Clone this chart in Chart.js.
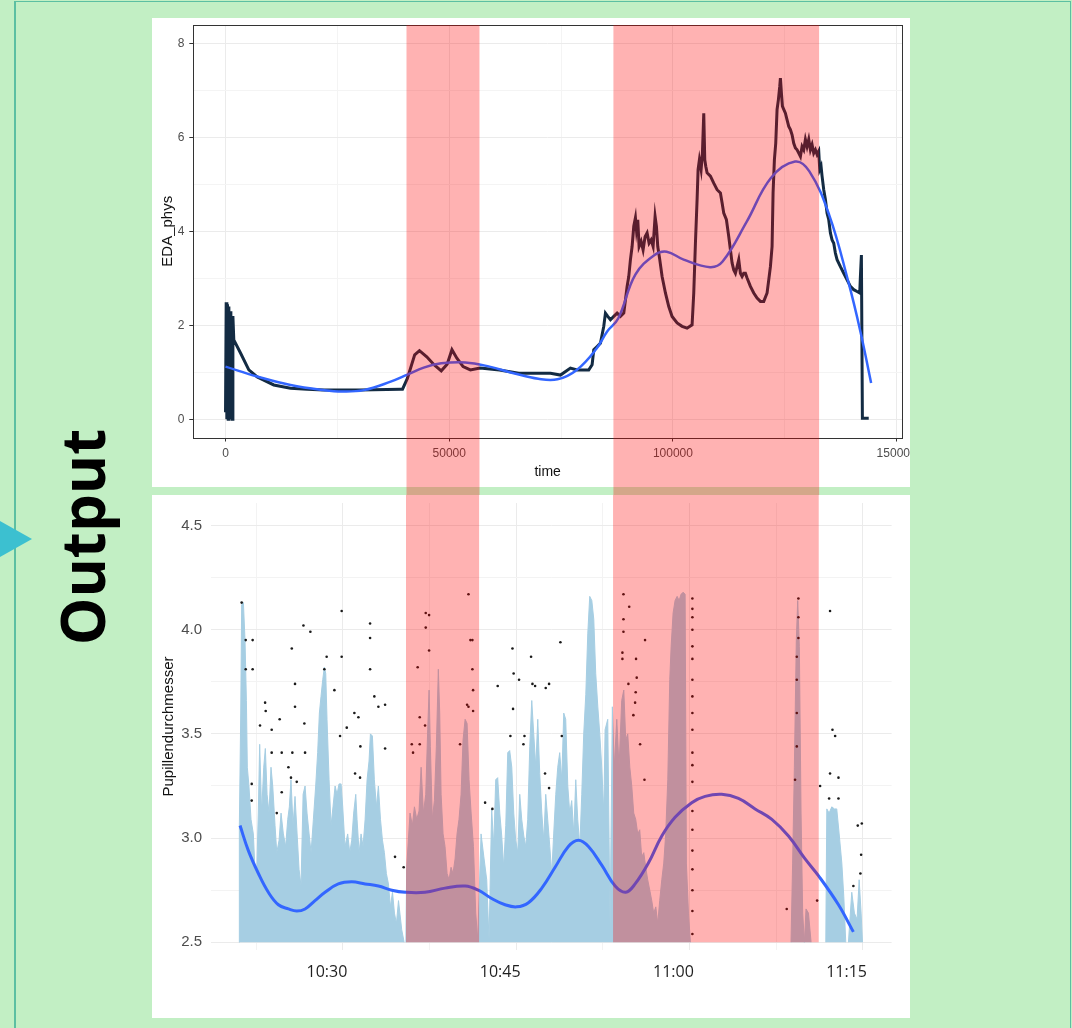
<!DOCTYPE html>
<html>
<head>
<meta charset="utf-8">
<script src="https://cdn.jsdelivr.net/npm/chart.js@4.4.1/dist/chart.umd.min.js"></script>
<style>
  html, body { margin: 0; padding: 0; }
  body { width: 1072px; height: 1028px; background: #c2efc4; position: relative; overflow: hidden; }
  #frame { position: absolute; left: 14px; top: 1px; width: 1054px; height: 1040px;
           border-left: 2px solid #5cbfa2; border-top: 1px solid #5cbfa2; border-right: 1px solid #5cbfa2; }
  #arrow { position: absolute; left: 0; top: 521px; width: 32px; height: 36px; background: #3cc0d0;
           clip-path: polygon(0 0, 100% 50%, 0 100%); }
  #outputLabel { position: absolute; left: 82px; top: 537px; transform: translate(-50%, -50%) rotate(-90deg);
                 font: bold 60px 'Open Sans', sans-serif; line-height: 1; white-space: nowrap; color: #000; }
  #edaChart { position: absolute; left: 152px; top: 18px; }
  #pupilChart { position: absolute; left: 152px; top: 495px; }
</style>
</head>
<body>
<div id="frame"></div>
<div id="arrow"></div>
<div id="outputLabel">Output</div>
<canvas id="edaChart" width="758" height="477"></canvas>
<canvas id="pupilChart" width="758" height="523"></canvas>
<script>
const edaTrace = [
  [0, 0.15], [150, 2.49], [300, 0.0], [450, 2.45], [600, 0.0], [750, 2.40], [900, 0.0],
  [1050, 2.30], [1200, 0.0], [1350, 2.20], [1500, 0.0], [1650, 2.20], [1855, 1.69],
  [3352, 1.41], [5207, 1.05], [7084, 0.90], [10793, 0.73], [14525, 0.66], [18257, 0.64],
  [21966, 0.62], [30000, 0.62], [39106, 0.64], [39560, 0.64], [40650, 0.87], [42280, 1.37],
  [43350, 1.46], [44980, 1.33], [46600, 1.16], [48220, 1.03], [49540, 1.17], [50610, 1.48],
  [51710, 1.30], [53100, 1.12], [54730, 1.05], [56900, 1.09], [61230, 1.05], [65560, 0.98],
  [72625, 0.98], [74860, 0.94], [77094, 1.09], [78584, 1.05], [81190, 1.05], [81936, 1.16],
  [82308, 1.48], [83054, 1.55], [83799, 1.62], [84543, 1.98], [84916, 2.26], [85437, 2.19],
  [86033, 2.12], [86778, 2.19], [87523, 2.26], [88268, 2.19], [89013, 2.26], [89385, 2.54],
  [89758, 2.83], [90130, 3.04], [90503, 3.40], [90875, 3.68], [91248, 4.11], [91620, 4.29],
  [91843, 4.04], [92141, 4.25], [92439, 3.68], [92886, 3.79], [93333, 3.61], [93780, 3.89],
  [94227, 3.97], [94674, 3.75], [95121, 3.82], [95568, 3.68], [96015, 4.32], [96313, 4.11],
  [96611, 3.68], [97058, 3.40], [97579, 3.04], [98324, 2.69], [99069, 2.40], [99814, 2.19],
  [100931, 2.05], [102049, 1.98], [103166, 1.94], [104283, 2.01], [104656, 2.69], [105028, 3.75],
  [105401, 4.68], [105624, 5.32], [105922, 5.53], [106297, 5.32], [106594, 5.67], [106892, 6.52],
  [107115, 5.53], [107339, 5.39], [107635, 5.25], [108380, 5.18], [109125, 5.03], [109870, 4.89],
  [110615, 4.82], [110987, 4.61], [111360, 4.39], [111956, 4.25], [112477, 3.89], [112850, 3.61],
  [113222, 3.33], [113595, 3.18], [113967, 3.11], [114339, 3.25], [114712, 3.40], [115084, 3.11],
  [115457, 3.04], [115829, 3.11], [116202, 3.11], [116574, 3.01], [117319, 2.83], [118064, 2.69],
  [118809, 2.58], [119554, 2.51], [120299, 2.51], [121044, 2.69], [121416, 2.97], [121789, 3.25],
  [122161, 3.68], [122384, 4.82], [122682, 5.53], [122980, 5.88], [123278, 6.60], [123576, 6.81],
  [123874, 7.09], [124023, 7.27], [124247, 6.95], [124470, 6.67], [124768, 6.60], [125140, 6.52],
  [125513, 6.38], [125885, 6.24], [126258, 6.17], [126630, 6.06], [127003, 5.88], [127375, 5.78],
  [127748, 5.74], [128120, 5.67], [128493, 5.60], [128865, 5.81], [129237, 5.74], [129610, 5.96],
  [129982, 5.81], [130355, 5.96], [130727, 5.74], [131100, 5.85], [131472, 5.67], [131845, 5.74],
  [132217, 5.64], [132590, 5.71], [132813, 5.32], [133111, 5.39], [133334, 5.18], [133707, 4.89],
  [134079, 4.68], [134452, 4.39], [134824, 4.25], [135197, 3.97], [135569, 3.82], [135942, 3.75],
  [136314, 3.54], [136687, 3.40], [137432, 3.25], [138176, 3.11], [138921, 2.97], [139666, 2.83],
  [140411, 2.76], [141156, 2.72], [141752, 2.69], [141901, 3.04], [142124, 3.50], [142348, 0.02],
  [143763, 0.02]
];
const edaSmooth = [
  [0, 1.12], [7084, 0.91], [14525, 0.73], [21966, 0.62], [26000, 0.59], [30900, 0.62],
  [36900, 0.80], [40650, 0.95], [44300, 1.10], [48220, 1.19], [53600, 1.21], [59000, 1.12],
  [64400, 0.98], [69900, 0.86], [74200, 0.85], [78500, 1.05], [82900, 1.50], [85300, 1.87],
  [87800, 2.15], [91600, 3.08], [95900, 3.50], [98600, 3.57], [102400, 3.40], [108300, 3.24],
  [111100, 3.36], [116500, 4.21], [121900, 5.14], [127300, 5.49], [130500, 5.28], [134900, 4.36],
  [139200, 2.93], [141900, 1.87], [144300, 0.77]
];
const edaTimeTicks = [0, 25000, 50000, 75000, 100000, 125000, 150000];
const edaValueTicks = [0, 1, 2, 3, 4, 5, 6, 7, 8];
const bandStartTime = [40450, 86700];
const bandEndTime = [56760, 132670];

// --- Pupille (unten): Minuten nach 10:00 ---
const pupilTrace = [
  [21.00, 2.50], [21.03, 3.06], [21.15, 3.60], [21.23, 4.12], [21.38, 4.13], [21.52, 3.95],
  [21.64, 3.66], [21.72, 3.34], [21.86, 3.25], [22.04, 3.09], [22.24, 3.02], [22.38, 2.85],
  [22.53, 2.83], [22.67, 3.12], [22.79, 3.45], [22.96, 3.12], [23.14, 3.34], [23.28, 3.43],
  [23.43, 3.21], [23.60, 3.12], [23.77, 3.34], [23.92, 3.25], [24.12, 3.06], [24.27, 2.93],
  [24.47, 2.99], [24.64, 3.12], [24.84, 3.02], [25.04, 2.96], [25.22, 3.09], [25.36, 3.15],
  [25.50, 3.28], [25.68, 3.06], [25.85, 3.20], [26.03, 3.02], [26.20, 2.85], [26.37, 2.77],
  [26.55, 3.21], [26.72, 3.25], [26.89, 3.12], [27.07, 3.02], [27.24, 2.93], [27.44, 3.09],
  [27.64, 3.25], [27.81, 3.41], [27.96, 3.60], [28.10, 3.68], [28.25, 3.76], [28.39, 3.82],
  [28.51, 3.79], [28.62, 3.57], [28.80, 3.28], [28.97, 3.06], [29.14, 3.15], [29.32, 3.25],
  [29.49, 3.21], [29.66, 3.26], [29.84, 3.26], [29.98, 3.15], [30.18, 2.96], [30.41, 3.02],
  [30.59, 2.93], [30.76, 2.99], [30.93, 3.12], [31.11, 3.21], [31.22, 3.09], [31.40, 2.93],
  [31.57, 3.02], [31.74, 2.96], [31.92, 3.09], [32.09, 3.28], [32.26, 3.37], [32.38, 3.50],
  [32.55, 3.49], [32.72, 3.28], [32.90, 3.15], [33.07, 3.25], [33.25, 3.09], [33.42, 2.99],
  [33.59, 2.93], [33.76, 2.83], [33.94, 2.78], [34.11, 2.67], [34.29, 2.74], [34.46, 2.64],
  [34.63, 2.59], [34.81, 2.70], [35.09, 2.56], [35.30, 2.50], [35.45, 2.50], [35.52, 2.86],
  [35.81, 3.12], [36.01, 3.06], [36.19, 3.15], [36.39, 3.09], [36.59, 3.13], [36.77, 3.34],
  [36.97, 3.12], [37.17, 3.21], [37.34, 3.52], [37.46, 3.71], [37.57, 3.44], [37.74, 3.09],
  [37.92, 3.18], [38.09, 3.44], [38.26, 3.81], [38.38, 3.60], [38.50, 3.21], [38.67, 3.02],
  [38.84, 2.96], [39.02, 2.83], [39.19, 2.80], [39.36, 2.86], [39.53, 2.83], [39.71, 2.90],
  [39.88, 3.02], [40.05, 3.09], [40.23, 3.21], [40.40, 3.47], [40.58, 3.57], [40.75, 3.55],
  [40.92, 3.28], [41.10, 3.12], [41.30, 2.96], [41.50, 2.64], [41.67, 2.51], [41.96, 3.02],
  [42.20, 2.91], [42.45, 2.80], [42.65, 2.51], [42.88, 3.14], [43.06, 2.96], [43.23, 3.28],
  [43.40, 3.29], [43.58, 3.12], [43.75, 3.01], [43.92, 2.86], [44.10, 3.06], [44.27, 3.41],
  [44.44, 3.42], [44.62, 3.34], [44.79, 3.12], [44.96, 2.99], [45.14, 2.93], [45.31, 3.21],
  [45.48, 3.09], [45.66, 3.01], [45.83, 2.96], [46.00, 3.09], [46.18, 3.44], [46.35, 3.66],
  [46.52, 3.50], [46.70, 3.34], [46.87, 3.57], [47.04, 3.31], [47.22, 3.12], [47.39, 2.99],
  [47.56, 3.21], [47.73, 3.09], [47.91, 2.96], [48.08, 2.83], [48.25, 3.02], [48.43, 3.21],
  [48.60, 3.34], [48.77, 3.41], [48.95, 3.28], [49.12, 3.60], [49.29, 3.57], [49.47, 3.25],
  [49.64, 3.12], [49.81, 3.18], [49.99, 3.02], [50.16, 3.28], [50.33, 3.09], [50.51, 2.96],
  [50.68, 3.21], [50.85, 3.50], [51.03, 3.69], [51.20, 3.98], [51.37, 4.16], [51.55, 4.14],
  [51.72, 4.05], [51.89, 3.79], [52.07, 3.63], [52.24, 3.50], [52.41, 3.34], [52.59, 3.12],
  [52.70, 3.52], [52.93, 3.57], [53.13, 2.56], [53.33, 3.63], [53.50, 3.34], [53.71, 3.57],
  [53.91, 3.34], [54.14, 3.66], [54.32, 3.71], [54.49, 3.47], [54.66, 3.50], [54.84, 3.34],
  [55.01, 3.25], [55.18, 3.12], [55.35, 3.09], [55.53, 3.02], [55.70, 3.04], [55.87, 2.91],
  [56.05, 2.93], [56.22, 2.86], [56.39, 2.80], [56.57, 2.75], [56.74, 2.70], [56.91, 2.64],
  [57.09, 2.67], [57.26, 2.59], [57.43, 2.70], [57.61, 2.80], [57.78, 2.88], [57.95, 3.02],
  [58.13, 3.28], [58.30, 3.76], [58.42, 3.92], [58.59, 4.08], [58.76, 4.14], [58.94, 4.16],
  [59.11, 4.14], [59.28, 4.17], [59.46, 4.18], [59.63, 4.17], [59.74, 2.88], [59.92, 2.64],
  [60.09, 2.50], [68.80, 2.50], [68.94, 2.88], [69.09, 3.34], [69.26, 3.95], [69.38, 4.14],
  [69.52, 3.92], [69.67, 3.12], [69.81, 2.64], [69.96, 2.50], [70.10, 2.66], [70.31, 2.64],
  [70.54, 2.50], [71.81, 2.50], [71.90, 3.14], [72.10, 3.12], [72.33, 3.15], [72.56, 3.14],
  [72.76, 3.14], [72.97, 3.02], [73.20, 2.88], [73.37, 2.72], [73.54, 2.50], [73.77, 2.50],
  [74.06, 2.74], [74.29, 2.64], [74.52, 2.61], [74.70, 2.80], [74.87, 2.64], [74.99, 2.50]
];
const pupilDots = [
  [21.23, 4.13], [21.58, 3.95], [22.18, 3.95], [22.18, 3.81], [21.58, 3.81], [25.57, 3.91],
  [26.58, 4.02], [27.18, 3.99], [25.85, 3.74], [25.85, 3.63], [29.89, 4.09], [29.89, 3.87],
  [32.35, 4.03], [32.35, 3.96], [32.35, 3.81], [28.59, 3.87], [28.39, 3.81], [29.26, 3.71],
  [32.72, 3.68], [33.07, 3.63], [33.65, 3.64], [23.26, 3.65], [23.31, 3.61], [22.82, 3.54],
  [24.52, 3.57], [26.66, 3.55], [30.99, 3.60], [31.34, 3.58], [30.33, 3.53], [29.75, 3.49],
  [31.51, 3.44], [33.65, 3.43], [31.05, 3.31], [31.48, 3.29], [23.83, 3.52], [24.70, 3.41],
  [25.62, 3.41], [26.72, 3.41], [23.83, 3.41], [26.00, 3.27], [25.50, 3.29], [24.70, 3.22],
  [24.27, 3.12], [25.28, 3.34], [22.10, 3.26], [22.10, 3.18], [34.51, 2.91], [35.26, 2.86],
  [40.87, 4.17], [37.17, 4.08], [37.46, 4.07], [37.17, 4.01], [37.46, 3.90], [36.47, 3.82],
  [41.21, 3.95], [41.04, 3.95], [41.21, 3.81], [41.27, 3.71], [40.75, 3.64], [40.87, 3.63],
  [41.27, 3.61], [36.65, 3.58], [37.11, 3.54], [40.14, 3.45], [35.96, 3.45], [36.65, 3.45],
  [36.07, 3.41], [44.68, 3.91], [46.29, 3.87], [48.83, 3.94], [43.40, 3.73], [44.78, 3.79],
  [45.25, 3.76], [46.41, 3.74], [46.64, 3.73], [47.56, 3.72], [47.85, 3.74], [44.73, 3.62],
  [44.50, 3.49], [48.95, 3.49], [45.72, 3.49], [45.63, 3.45], [47.50, 3.31], [47.85, 3.24],
  [42.31, 3.17], [42.94, 3.14],
  [54.29, 4.17], [54.79, 4.11], [54.29, 4.05], [54.29, 3.99], [56.16, 3.95], [54.20, 3.89],
  [54.20, 3.86], [55.38, 3.86], [55.44, 3.77], [55.35, 3.70], [55.30, 3.65], [55.15, 3.59],
  [54.72, 3.74], [55.73, 3.45], [56.11, 3.28],
  [60.26, 4.15], [60.26, 4.10], [60.26, 4.06], [60.26, 4.00], [60.26, 3.92], [60.26, 3.86],
  [60.26, 3.76], [60.26, 3.68], [60.26, 3.60], [60.26, 3.52], [60.26, 3.41], [60.26, 3.35],
  [60.26, 3.27], [60.26, 3.13], [60.26, 3.04], [60.26, 2.94], [60.26, 2.85], [60.26, 2.75],
  [60.26, 2.65], [60.26, 2.54],
  [69.44, 4.15], [69.44, 4.06], [69.44, 3.96], [69.30, 3.87], [69.30, 3.76], [69.30, 3.60],
  [69.30, 3.44], [69.15, 3.28], [68.43, 2.66], [71.06, 2.70], [72.18, 4.09], [72.39, 3.52],
  [72.62, 3.49], [72.18, 3.31], [72.91, 3.29], [72.10, 3.19], [72.91, 3.19], [74.58, 3.06],
  [74.93, 3.07], [74.87, 2.92], [74.81, 2.83], [74.20, 2.77], [71.32, 3.25]
];
const pupilSmooth = [
  [21.09, 3.06], [21.81, 2.94], [22.68, 2.83], [23.54, 2.74], [24.41, 2.68], [25.28, 2.66],
  [26.00, 2.65], [26.72, 2.66], [27.58, 2.70], [28.45, 2.74], [29.60, 2.78], [30.76, 2.79],
  [31.92, 2.78], [33.07, 2.77], [34.23, 2.75], [35.38, 2.74], [37.11, 2.74], [38.84, 2.76],
  [40.58, 2.77], [41.73, 2.75], [42.88, 2.71], [44.04, 2.68], [45.05, 2.67], [46.06, 2.69],
  [47.22, 2.76], [48.37, 2.86], [49.52, 2.96], [50.39, 2.99], [51.26, 2.96], [52.41, 2.87],
  [53.57, 2.77], [54.49, 2.74], [55.30, 2.78], [56.45, 2.88], [57.61, 3.01], [58.76, 3.10],
  [60.20, 3.17], [61.36, 3.20], [62.80, 3.21], [64.25, 3.19], [65.69, 3.14], [67.14, 3.09],
  [68.58, 3.01], [70.02, 2.90], [71.17, 2.82], [72.91, 2.68], [74.20, 2.55]
];
const pupilMinuteTicks = [22.5, 30, 37.5, 45, 52.5, 60, 67.5, 75];
const pupilValueTicks = [2.5, 2.75, 3.0, 3.25, 3.5, 3.75, 4.0, 4.25, 4.5];
const bandStartMin = [35.46, 53.39];
const bandEndMin = [41.79, 71.20];

const toXY = arr => arr.map(p => ({ x: p[0], y: p[1] }));
const fixTicks = values => scale => { scale.ticks = values.map(v => ({ value: v })); };

Chart.defaults.font.family = "'Liberation Sans', Arial, sans-serif";

// weisses Panel hinter dem Plot
const panelPlugin = {
  id: 'panel',
  beforeDraw(chart, args, opts) {
    const { ctx } = chart;
    ctx.save();
    ctx.fillStyle = '#ffffff';
    ctx.fillRect(0, 0, chart.width, opts.height || chart.height);
    ctx.restore();
  }
};

// Rahmen um die Plotflaeche (theme_bw)
const boxPlugin = {
  id: 'box',
  afterDatasetsDraw(chart, args, opts) {
    if (!opts.show) return;
    const { ctx, chartArea: a } = chart;
    ctx.save();
    ctx.strokeStyle = '#333333';
    ctx.lineWidth = 1;
    ctx.strokeRect(Math.round(a.left) + 0.5, Math.round(a.top) + 0.5, Math.round(a.right - a.left), Math.round(a.bottom - a.top));
    ctx.restore();
  }
};

// rote Phasen als halbtransparente Flaechen
const bandPlugin = {
  id: 'bands',
  afterDraw(chart, args, opts) {
    const { ctx, scales: { x, y } } = chart;
    const top = opts.fromChartTop ? chart.chartArea.top : 0;
    const bottom = opts.toValue !== undefined ? y.getPixelForValue(opts.toValue) : chart.height;
    ctx.save();
    ctx.fillStyle = 'rgba(255, 0, 0, 0.3)';
    opts.starts.forEach((s, i) => {
      const x0 = x.getPixelForValue(s);
      const x1 = x.getPixelForValue(opts.ends[i]);
      ctx.fillRect(x0, top, x1 - x0, bottom - top);
    });
    ctx.restore();
  }
};

new Chart(document.getElementById('edaChart'), {
  type: 'line',
  data: {
    datasets: [
      { label: 'smooth', data: toXY(edaSmooth), borderColor: '#3366ff', borderWidth: 2.5, pointRadius: 0, tension: 0.4 },
      { label: 'EDA_phys', data: toXY(edaTrace), borderColor: '#132b43', borderWidth: 3, pointRadius: 0, tension: 0 }
    ]
  },
  options: {
    responsive: false,
    animation: false,
    events: [],
    layout: { padding: { left: 7, right: 8, top: 7, bottom: 14.6 } },
    plugins: {
      legend: { display: false },
      tooltip: { enabled: false },
      panel: { height: 469 },
      box: { show: true },
      bands: { starts: bandStartTime, ends: bandEndTime, fromChartTop: true }
    },
    scales: {
      x: {
        type: 'linear', min: -7200, max: 151200,
        afterBuildTicks: fixTicks(edaTimeTicks),
        ticks: {
          autoSkip: false, maxRotation: 0,
          color: '#4d4d4d', font: { size: 12 }, padding: 5,
          callback: v => (v % 50000 === 0 ? String(v) : '')
        },
        grid: {
          color: c => (c.tick && c.tick.value % 50000 === 0 ? '#ebebeb' : '#f4f4f4'),
          tickLength: 4,
          tickColor: c => (c.tick && c.tick.value % 50000 === 0 ? '#333333' : 'rgba(0,0,0,0)')
        },
        border: { display: false },
        title: { display: true, text: 'time', color: '#111', font: { size: 14 }, padding: 0 },
        afterFit(s) { s.height = 42.9; s.paddingLeft = 0; s.paddingRight = 0; }
      },
      y: {
        min: -0.39, max: 8.4,
        afterBuildTicks: fixTicks(edaValueTicks),
        ticks: {
          color: '#4d4d4d', font: { size: 12 }, padding: 5,
          callback: v => (v % 2 === 0 ? String(v) : '')
        },
        grid: {
          color: c => (c.tick && c.tick.value % 2 === 0 ? '#ebebeb' : '#f4f4f4'),
          tickLength: 4,
          tickColor: c => (c.tick && c.tick.value % 2 === 0 ? '#333333' : 'rgba(0,0,0,0)')
        },
        border: { display: false },
        title: { display: true, text: 'EDA_phys', color: '#111', font: { size: 15 }, padding: 0 },
        afterFit(s) { s.width = 34.3; s.paddingTop = 0; s.paddingBottom = 0; }
      }
    }
  },
  plugins: [panelPlugin, boxPlugin, bandPlugin]
});

const isHalf = v => Math.abs(v * 2 - Math.round(v * 2)) < 1e-6;
const fmtClock = v => `${10 + Math.floor(v / 60)}:${String(v % 60).padStart(2, '0')}`;
const pupilBlue = '#a6cee3';

new Chart(document.getElementById('pupilChart'), {
  type: 'line',
  data: {
    datasets: [
      { label: 'smooth', data: toXY(pupilSmooth), borderColor: '#3366ff', borderWidth: 3, pointRadius: 0, tension: 0.4 },
      { label: 'dots', data: toXY(pupilDots), showLine: false, pointRadius: 1.3, pointBackgroundColor: '#1a1a1a', pointBorderWidth: 0 },
      {
        label: 'Pupillendurchmesser', data: toXY(pupilTrace),
        fill: { value: 2.5 }, backgroundColor: pupilBlue, borderColor: pupilBlue, borderWidth: 1,
        pointRadius: 0, tension: 0,
        segment: { borderColor: c => (c.p0.parsed.y <= 2.5 && c.p1.parsed.y <= 2.5 ? 'rgba(0,0,0,0)' : undefined) }
      }
    ]
  },
  options: {
    responsive: false,
    animation: false,
    events: [],
    layout: { padding: { left: 7.5, right: 18.4, top: 8, bottom: 0 } },
    plugins: {
      legend: { display: false },
      tooltip: { enabled: false },
      panel: {},
      box: { show: false },
      bands: { starts: bandStartMin, ends: bandEndMin, fromChartTop: false, toValue: 2.5 }
    },
    scales: {
      x: {
        type: 'linear', min: 18.54, max: 77.51,
        afterBuildTicks: fixTicks(pupilMinuteTicks),
        ticks: {
          autoSkip: false, maxRotation: 0,
          color: '#1f1f1f', font: { size: 16, family: "'Open Sans', sans-serif" }, padding: 13, labelOffset: -16,
          callback: v => (v % 15 === 0 ? fmtClock(v) : '')
        },
        grid: {
          color: c => (c.tick && c.tick.value % 15 === 0 ? '#ebebeb' : '#f3f3f3'),
          drawTicks: false
        },
        border: { display: false },
        afterFit(s) { s.height = 68; s.paddingLeft = 0; s.paddingRight = 0; }
      },
      y: {
        min: 2.463, max: 4.608,
        afterBuildTicks: fixTicks(pupilValueTicks),
        ticks: {
          color: '#4d4d4d', font: { size: 15 }, padding: 8.6,
          callback: v => (isHalf(v) ? v.toFixed(1) : '')
        },
        grid: {
          color: c => (c.tick && isHalf(c.tick.value) ? '#ebebeb' : '#f3f3f3'),
          drawTicks: false
        },
        border: { display: false },
        title: { display: true, text: 'Pupillendurchmesser', color: '#111', font: { size: 15 }, padding: 0 },
        afterFit(s) { s.width = 51.1; s.paddingTop = 0; s.paddingBottom = 0; }
      }
    }
  },
  plugins: [panelPlugin, boxPlugin, bandPlugin]
});
</script>
</body>
</html>
